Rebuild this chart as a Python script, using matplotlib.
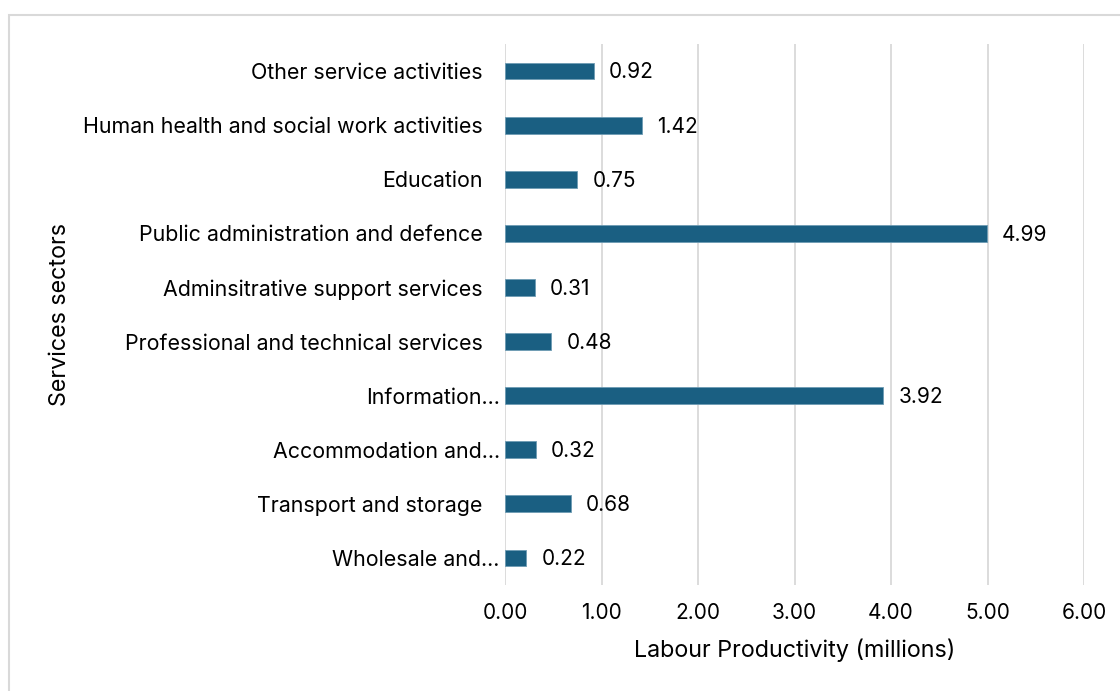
import matplotlib.pyplot as plt
from matplotlib.patches import Rectangle
import matplotlib.transforms as mtransforms

sectors = ["Wholesale and…", "Transport and storage", "Accommodation and…", "Information…",
           "Professional and technical services", "Adminsitrative support services",
           "Public administration and defence", "Education",
           "Human health and social work activities", "Other service activities"]
productivity = [0.22, 0.68, 0.32, 3.92, 0.48, 0.31, 4.99, 0.75, 1.42, 0.92]
xticks = [0, 1, 2, 3, 4, 5, 6]

plt.rcParams['font.family'] = ['Inter', 'DejaVu Sans']

fig = plt.figure(figsize=(11.2, 6.91), dpi=100)
ax = fig.add_axes([505/1120, 1-585/691, (1084-505)/1120, (585-44)/691])

# light frame around the chart
fig.patches.append(Rectangle((9/1120, -0.2), 1.2, 1.2-15/691, transform=fig.transFigure,
                             fill=False, edgecolor='#d9d9d9', linewidth=1.5))

pos = list(range(len(sectors)))
bars = ax.barh(pos, productivity, height=0.31, color='#1a5f82', edgecolor='#6d9bb3', linewidth=0.6, zorder=3)

for b, v in zip(bars, productivity):
    ax.annotate(f"{v:.2f}", (b.get_width(), b.get_y() + b.get_height()/2),
                xytext=(11, -1), textcoords='offset points', va='center', ha='left', fontsize=15)

ax.set_xlim(0, 6)
ax.set_ylim(-0.5, 9.5)
ax.set_xticks(xticks)
ax.set_xticklabels([f"{t:.2f}" for t in xticks], fontsize=15)
ax.set_yticks(pos)
ax.set_yticklabels(sectors, fontsize=15.4)
ax.tick_params(length=0, pad=13)
ax.tick_params(axis='y', pad=16)
ax.grid(axis='x', color='#d9d9d9', linewidth=1.3, zorder=0)
for s in ax.spines.values():
    s.set_visible(False)

# truncated names sit closer to the axis
for lab in ax.get_yticklabels():
    if lab.get_text().endswith("…"):
        lab.set_transform(lab.get_transform() + mtransforms.ScaledTranslation(17/100, 0, fig.dpi_scale_trans))

ax.set_xlabel("Labour Productivity (millions)", fontsize=16.8, labelpad=11)
fig.text(60/1120, 1-315/691, "Services sectors", rotation=90, ha='center', va='center', fontsize=16.8)

plt.savefig('out.png', dpi=100)
